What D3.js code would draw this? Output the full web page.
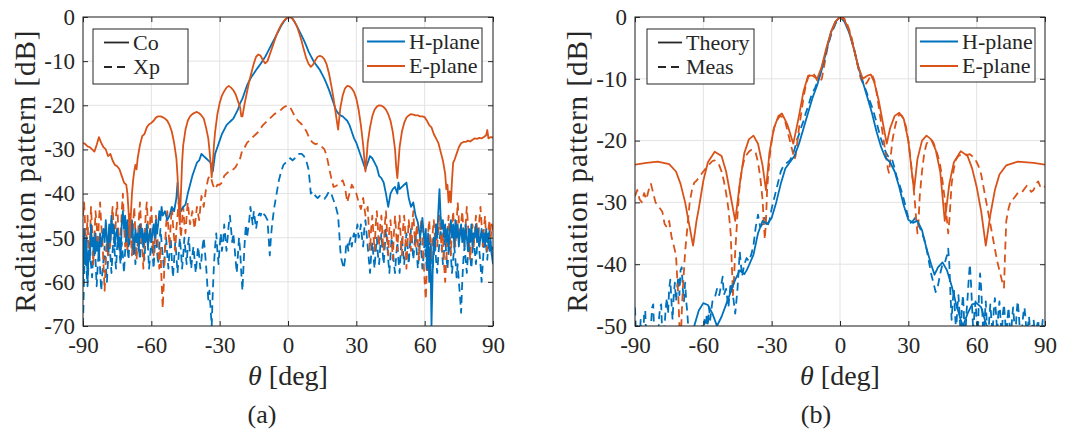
<!DOCTYPE html>
<html lang="en">
<head>
<meta charset="UTF-8">
<title>Radiation pattern</title>
<style>
  body { margin: 0; background: #fff; }
</style>
</head>
<body>
<script src="https://d3js.org/d3.v7.min.js"></script>
<div id="chart"></div>
<script>
// tick values
const thetaTicks = [-90, -60, -30, 0, 30, 60, 90]
const dbTicksA = [0, -10, -20, -30, -40, -50, -60, -70]
const dbTicksB = [0, -10, -20, -30, -40, -50]

// (a) measured co-pol / cross-pol, [theta deg, dB]
const coH = [[-90,-60],[-89.5,-48],[-89,-56],[-88.5,-50],[-88,-60],[-87.5,-53],[-87,-55],[-86.5,-47],[-86,-52],[-85.5,-50],[-85,-54],[-84.5,-49],[-84,-53],[-83.5,-51],[-83,-55],[-82.5,-49],[-82,-52],[-81,-48],[-80.5,-51],[-80,-46],[-79.5,-50],[-79,-53],[-78.5,-47],[-78,-51],[-77.5,-45],[-77,-49],[-76.5,-47],[-76,-52],[-75.5,-49],[-75,-48],[-74.5,-52],[-74,-50],[-73.5,-55],[-73,-47],[-72.5,-44],[-72,-48],[-71.5,-45],[-71,-50],[-70.5,-46],[-70,-52],[-69.5,-47],[-69,-50],[-68.5,-46],[-68,-50],[-67.5,-53],[-67,-48],[-66.5,-51],[-66,-49],[-65.5,-53],[-65,-47],[-64.5,-50],[-64,-48],[-63.5,-52],[-63,-49],[-62.5,-51],[-62,-47],[-61.5,-52],[-61,-50],[-60.5,-48],[-60,-51],[-59.5,-49],[-59,-47],[-58.5,-50],[-58,-46],[-57.5,-49],[-57,-47],[-56.5,-44],[-56,-46],[-55.5,-43],[-55,-45],[-54,-44],[-53,-46],[-52,-45],[-51,-43],[-50,-44],[-49,-41],[-48.5,-37.5],[-48,-41],[-47,-44],[-46,-43],[-45,-42.5],[-44,-40],[-43,-38],[-42,-36],[-41,-34.5],[-40,-33],[-39,-32.5],[-38,-31],[-37,-31.5],[-36,-32],[-35,-32.5],[-34,-33],[-33.5,-34],[-33,-35],[-32,-31],[-31,-29.5],[-30,-28],[-29,-26.5],[-28,-25.5],[-27,-24.5],[-26,-24],[-25,-23.5],[-24,-23],[-23,-22],[-22,-21],[-21,-19.5],[-20,-18.5],[-19,-17],[-18,-15.5],[-17,-14.5],[-16,-13.5],[-15,-12.8],[-14,-12],[-13,-11.3],[-12,-10.6],[-11,-9.8],[-10,-9],[-9,-8],[-8,-7],[-7,-6],[-6,-5],[-5,-4],[-4,-3],[-3,-2],[-2,-1.2],[-1,-0.5],[0,-0.1],[1,0],[2,-0.4],[3,-1.2],[4,-2.2],[5,-3.2],[6,-4.2],[7,-5.3],[8,-6.5],[9,-7.8],[10,-8.8],[11,-9.8],[12,-10.6],[13,-11.3],[14,-12],[15,-13],[16,-14],[17,-15.2],[18,-16.5],[19,-18],[20,-19.5],[21,-21],[22,-21.8],[23,-22.3],[24,-22.5],[25,-23],[26,-23.5],[27,-24.5],[28,-26],[29,-27.5],[30,-28.5],[31,-30],[32,-31.5],[33,-33],[34,-34.5],[35,-33],[36,-31.5],[37,-32],[38,-33],[39,-34],[40,-36],[41,-36.5],[42,-37.5],[43,-40],[44,-43],[45,-40],[46,-39],[47,-38.5],[48,-40],[48.5,-37.5],[49,-39],[50,-38.5],[51,-38],[52,-37.5],[53,-41],[54,-43],[55,-42],[56,-45],[57,-46.5],[58,-50],[59,-45.5],[60,-52],[60.5,-48],[61,-57],[61.5,-49],[62,-60],[62.5,-52],[63,-70],[63.5,-58],[64,-50],[64.5,-53],[65,-47],[65.5,-50],[66,-44],[66.5,-39],[67,-45],[67.5,-48],[68,-46],[68.5,-50],[69,-47],[69.5,-51],[70,-48],[70.5,-53],[71,-49],[71.5,-46],[72,-50],[72.5,-47],[73,-52],[73.5,-46],[74,-50],[74.5,-47],[75,-52],[75.5,-49],[76,-47],[76.5,-51],[77,-48],[77.5,-52],[78,-47],[78.5,-50],[79,-53],[79.5,-48],[80,-51],[80.5,-47],[81,-52],[81.5,-49],[82,-50],[82.5,-47],[83,-51],[83.5,-48],[84,-52],[84.5,-50],[85,-48],[85.5,-51],[86,-49],[86.5,-52],[87,-48],[87.5,-51],[88,-49],[88.5,-53],[89,-51],[89.5,-54],[90,-56]]

const coE = [[-90,-28.5],[-89,-28.8],[-88,-29.3],[-87,-29.5],[-86,-30],[-85,-30.5],[-84,-29],[-83,-27.2],[-82,-28.5],[-81,-29.5],[-80,-30],[-79,-31.5],[-78,-31],[-77,-32.5],[-76,-33.5],[-75,-33.8],[-74,-34.5],[-73,-36],[-72,-37.5],[-71,-38],[-70.5,-40],[-70,-44],[-69.5,-50],[-69,-45],[-68.5,-40],[-68,-37],[-67.5,-35],[-67,-33.5],[-66.5,-34.5],[-66,-32],[-65,-29],[-64,-27],[-63,-26.5],[-62,-25],[-61,-24.3],[-60,-24],[-59,-23.5],[-58,-22.8],[-57,-22.5],[-56,-22.5],[-55,-22.7],[-54,-23],[-53,-23.5],[-52,-24.5],[-51,-26],[-50,-28.5],[-49,-32],[-48.5,-36],[-48,-42],[-47.5,-47],[-47,-40],[-46.5,-33],[-46,-29],[-45,-25.5],[-44,-23.5],[-43,-22.5],[-42,-22],[-41,-21.7],[-40,-21.5],[-39,-21.8],[-38,-22.3],[-37,-23],[-36,-25],[-35,-27.5],[-34.5,-30],[-34,-33],[-33.5,-36.3],[-33,-33],[-32.5,-29],[-32,-26],[-31,-22],[-30,-19.5],[-29,-17.8],[-28,-16.8],[-27,-16],[-26,-15.6],[-25,-16],[-24,-16.6],[-23,-17.5],[-22,-19],[-21,-20.5],[-20.5,-22.5],[-20,-22.5],[-19.5,-21],[-19,-19.5],[-18,-17],[-17,-14.5],[-16,-12.5],[-15,-10.5],[-14,-9],[-13,-8.5],[-12,-8.8],[-11,-9.8],[-10,-10.5],[-9,-10],[-8,-8.5],[-7,-7],[-6,-5.5],[-5,-4],[-4,-2.8],[-3,-1.8],[-2,-1],[-1,-0.4],[0,-0.1],[1,0],[2,-0.4],[3,-1.2],[4,-2.2],[5,-3.8],[6,-5.5],[7,-7.5],[8,-9.3],[9,-10.6],[10,-11.3],[11,-10.8],[12,-9.8],[13,-9],[14,-8.8],[15,-9],[16,-9.6],[17,-10.8],[18,-12.8],[19,-15.5],[20,-18.5],[21,-22],[22,-25.5],[22.5,-23],[23,-20.5],[24,-17.8],[25,-16.2],[26,-15.6],[27,-15.7],[28,-16.2],[29,-17],[30,-18.5],[31,-21],[32,-24.5],[33,-29],[33.5,-32],[34,-35],[34.5,-32],[35,-28.5],[36,-25],[37,-22.5],[38,-21],[39,-20.3],[40,-20],[41,-20.1],[42,-20.4],[43,-21],[44,-22],[45,-23.5],[46,-26],[47,-30],[47.5,-34],[48,-36.5],[48.5,-33],[49,-29.5],[50,-26],[51,-24],[52,-22.8],[53,-22.3],[54,-22],[55,-22.1],[56,-22.3],[57,-22.3],[58,-22.5],[59,-22.5],[60,-22.7],[61,-23.5],[62,-24.5],[63,-25],[64,-26.5],[65,-27.5],[66,-28.5],[67,-30.5],[68,-32.5],[69,-35.5],[69.5,-39],[70,-38],[70.5,-42],[71,-39.5],[71.5,-42],[72,-37],[72.5,-33],[73,-32.5],[74,-31],[75,-29.5],[76,-28.6],[77,-28.3],[78,-28.3],[79,-28],[80,-28.2],[81,-27.8],[82,-27.5],[83,-27.6],[84,-27.4],[85,-27.5],[86,-27.2],[87,-26.8],[87.5,-25.6],[88,-27.5],[89,-27.2],[90,-27.3]]

const xpH = [[-90,-70],[-89.5,-58],[-89,-52],[-88.5,-57],[-88,-61],[-87.5,-55],[-87,-51],[-86.5,-56],[-86,-59],[-85.5,-53],[-85,-50],[-84.5,-55],[-84,-61],[-83.5,-56],[-83,-53],[-82.5,-57],[-82,-62],[-81.5,-58],[-81,-55],[-80.5,-52],[-80,-56],[-79.5,-60],[-79,-55],[-78.5,-51],[-78,-54],[-77.5,-58],[-77,-53],[-76.5,-50],[-76,-54],[-75.5,-57],[-75,-52],[-74.5,-49],[-74,-53],[-73.5,-56],[-73,-51],[-72.5,-54],[-72,-58],[-71.5,-53],[-71,-49],[-70.5,-52],[-70,-55],[-69.5,-50],[-69,-47],[-68.5,-51],[-68,-54],[-67.5,-50],[-67,-56],[-66.5,-53],[-66,-49],[-65.5,-52],[-65,-55],[-64.5,-51],[-64,-48],[-63.5,-52],[-63,-55],[-62.5,-50],[-62,-48],[-61.5,-52],[-61,-57],[-60.5,-54],[-60,-50],[-59.5,-53],[-59,-57],[-58.5,-52],[-58,-49],[-57.5,-53],[-57,-56],[-56.5,-52],[-56,-48],[-55.5,-51],[-55,-54],[-54.5,-57],[-54,-53],[-53.5,-50],[-53,-54],[-52.5,-57],[-52,-53],[-51.5,-50],[-51,-55],[-50.5,-59],[-50,-55],[-49.5,-51],[-49,-54],[-48.5,-58],[-48,-54],[-47.5,-50],[-47,-53],[-46.5,-57],[-46,-54],[-45.5,-50],[-45,-53],[-44.5,-56],[-44,-52],[-43.5,-50],[-43,-54],[-42.5,-57],[-42,-54],[-41.5,-52],[-41,-55],[-40.5,-58],[-40,-55],[-39.5,-52],[-39,-54],[-38.5,-57],[-38,-55],[-37.5,-52],[-37,-50],[-36.5,-53],[-36,-56],[-35.5,-60],[-35,-64],[-34.5,-62],[-34,-66],[-33.5,-70],[-33,-62],[-32.5,-56],[-32,-52],[-31.5,-49],[-31,-53],[-30.5,-56],[-30,-52],[-29.5,-49],[-29,-53],[-28.5,-51],[-28,-47],[-27.5,-50],[-27,-53],[-26.5,-50],[-26,-47],[-25.5,-45],[-25,-48],[-24.5,-51],[-24,-49],[-23.5,-52],[-23,-55],[-22.5,-58],[-22,-54],[-21.5,-50],[-21,-53],[-20.5,-58],[-20,-62],[-19.5,-56],[-19,-51],[-18.5,-47],[-18,-50],[-17.5,-48],[-17,-46],[-16.5,-43],[-16,-45],[-15.5,-47],[-15,-44],[-14.5,-46],[-14,-48],[-13.5,-46],[-13,-45],[-12.5,-44.5],[-12,-45],[-11.5,-44],[-11,-44.5],[-10,-45],[-9,-46],[-8.5,-50],[-8,-54],[-7.5,-50],[-7,-47],[-6,-43],[-5,-40],[-4,-37],[-3,-35],[-2,-33.5],[-1,-33],[0,-32.5],[1,-32],[2,-32.5],[3,-32],[4,-31.2],[5,-31],[6,-31],[7,-31.5],[8,-32.5],[9,-34.5],[9.5,-37],[10,-40],[11,-39.5],[12,-40.5],[13,-41],[14,-40.5],[15,-41],[16,-41.2],[17,-40.5],[18,-39.5],[19,-40],[20,-41.5],[21,-43],[22,-45],[22.5,-49],[23,-53],[23.5,-55],[24,-56],[24.5,-57],[25,-55],[25.5,-52],[26,-51],[26.5,-53],[27,-51],[27.5,-50],[28,-52],[28.5,-50],[29,-49],[29.5,-51],[30,-48.5],[30.5,-47],[31,-50],[31.5,-49],[32,-47],[32.5,-50],[33,-52],[33.5,-48],[34,-46],[34.5,-49],[35,-52],[35.5,-55],[36,-58],[36.5,-54],[37,-51],[37.5,-54],[38,-57],[38.5,-53],[39,-50],[39.5,-54],[40,-56],[40.5,-52],[41,-49],[41.5,-53],[42,-56],[42.5,-52],[43,-48],[43.5,-51],[44,-55],[44.5,-58],[45,-54],[45.5,-50],[46,-52],[46.5,-56],[47,-58],[47.5,-54],[48,-51],[48.5,-55],[49,-58],[49.5,-53],[50,-50],[50.5,-53],[51,-56],[51.5,-52],[52,-49],[52.5,-52],[53,-56],[53.5,-52],[54,-48],[54.5,-51],[55,-55],[55.5,-52],[56,-49],[56.5,-53],[57,-57],[57.5,-54],[58,-50],[58.5,-53],[59,-57],[59.5,-54],[60,-51],[60.5,-54],[61,-58],[61.5,-55],[62,-52],[62.5,-50],[63,-54],[63.5,-57],[64,-54],[64.5,-51],[65,-55],[65.5,-58],[66,-54],[66.5,-51],[67,-48],[67.5,-52],[68,-56],[68.5,-53],[69,-50],[69.5,-54],[70,-57],[70.5,-53],[71,-50],[71.5,-54],[72,-58],[72.5,-55],[73,-52],[73.5,-55],[74,-59],[74.5,-56],[75,-60],[75.5,-63],[76,-67],[76.5,-60],[77,-55],[77.5,-52],[78,-55],[78.5,-58],[79,-54],[79.5,-51],[80,-54],[80.5,-57],[81,-53],[81.5,-50],[82,-53],[82.5,-56],[83,-52],[83.5,-49],[84,-53],[84.5,-56],[85,-60],[85.5,-56],[86,-52],[86.5,-49],[87,-52],[87.5,-55],[88,-51],[88.5,-48],[89,-51],[89.5,-54],[90,-52]]

const xpE = [[-90,-45],[-89.5,-42],[-89,-48],[-88.5,-51],[-88,-45],[-87.5,-55],[-87,-52],[-86.5,-43],[-86,-48],[-85.5,-56],[-85,-50],[-84.5,-44],[-84,-47],[-83.5,-52],[-83,-46],[-82.5,-42],[-82,-47],[-81.5,-50],[-81,-56],[-80.5,-62],[-80,-55],[-79.5,-50],[-79,-54],[-78.5,-47],[-78,-52],[-77.5,-46],[-77,-43],[-76.5,-48],[-76,-52],[-75.5,-45],[-75,-42],[-74.5,-48],[-74,-53],[-73.5,-50],[-73,-44],[-72.5,-40],[-72,-47],[-71.5,-52],[-71,-49],[-70.5,-53],[-70,-48],[-69.5,-44],[-69,-50],[-68.5,-54],[-68,-47],[-67.5,-43],[-67,-49],[-66.5,-55],[-66,-51],[-65.5,-46],[-65,-42],[-64.5,-47],[-64,-52],[-63.5,-57],[-63,-51],[-62.5,-45],[-62,-42],[-61.5,-47],[-61,-51],[-60.5,-46],[-60,-43],[-59.5,-49],[-59,-54],[-58.5,-50],[-58,-45],[-57.5,-48],[-57,-53],[-56.5,-57],[-56,-52],[-55.5,-60],[-55,-66],[-54.5,-60],[-54,-52],[-53.5,-47],[-53,-44],[-52.5,-48],[-52,-52],[-51.5,-47],[-51,-43],[-50.5,-47],[-50,-50],[-49.5,-53],[-49,-48],[-48.5,-45],[-48,-42],[-47.5,-46],[-47,-50],[-46.5,-46],[-46,-43],[-45.5,-47],[-45,-49],[-44.5,-45],[-44,-42],[-43,-47],[-42,-44],[-41,-48],[-40,-43],[-39,-46],[-38,-40.5],[-37,-43],[-36,-39],[-35,-36.5],[-34,-36],[-33,-38],[-32,-39],[-31,-38],[-30,-38],[-29,-37.5],[-28,-36],[-27,-35.5],[-26,-35],[-25,-35],[-24,-34.5],[-23,-34],[-22,-33],[-21,-32],[-20,-30],[-19,-29.5],[-18,-28.5],[-17,-28],[-16,-27.5],[-15,-27],[-14,-26.5],[-13,-26],[-12,-25.2],[-11,-24.5],[-10,-24],[-9,-23.5],[-8,-23],[-7,-22.5],[-6,-22],[-5,-21.7],[-4,-21.3],[-3,-21],[-2,-20.5],[-1,-20.2],[0,-20],[1,-20.5],[2,-21.5],[3,-22.5],[4,-23.3],[5,-23.8],[6,-24.3],[7,-25],[8,-25.8],[9,-27],[10,-28],[11,-28.5],[12,-28.8],[13,-28.7],[14,-29],[15,-29.5],[16,-30],[17,-31.5],[18,-34],[19,-36.5],[20,-38.5],[21,-38.3],[22,-38],[23,-37.5],[24,-37],[25,-38.5],[26,-42],[27,-40],[28,-38],[29,-39],[30,-40],[31,-42],[32,-43.5],[33,-41],[34,-45],[35,-43],[36,-53],[36.5,-48],[37,-45],[37.5,-49],[38,-53],[38.5,-47],[39,-44],[39.5,-48],[40,-52],[40.5,-47],[41,-45],[41.5,-50],[42,-53],[42.5,-47],[43,-44],[43.5,-49],[44,-54],[44.5,-48],[45,-46],[45.5,-50],[46,-55],[46.5,-49],[47,-45],[47.5,-49],[48,-53],[48.5,-48],[49,-45],[49.5,-50],[50,-54],[50.5,-48],[51,-45],[51.5,-49],[52,-57],[52.5,-51],[53,-46],[53.5,-49],[54,-53],[54.5,-47],[55,-44],[55.5,-49],[56,-52],[56.5,-47],[57,-51],[57.5,-55],[58,-49],[58.5,-46],[59,-50],[59.5,-55],[60,-60],[60.5,-64],[61,-56],[61.5,-49],[62,-46],[62.5,-51],[63,-55],[63.5,-49],[64,-46],[64.5,-50],[65,-47],[65.5,-52],[66,-48],[66.5,-45],[67,-49],[67.5,-53],[68,-49],[68.5,-56],[69,-60],[69.5,-55],[70,-49],[70.5,-45],[71,-50],[71.5,-54],[72,-48],[72.5,-44],[73,-49],[73.5,-52],[74,-47],[74.5,-42],[75,-46],[75.5,-50],[76,-47],[76.5,-44],[77,-48],[77.5,-52],[78,-47],[78.5,-43],[79,-47],[79.5,-51],[80,-55],[80.5,-50],[81,-47],[81.5,-52],[82,-49],[82.5,-45],[83,-48],[83.5,-51],[84,-46],[84.5,-43],[85,-47],[85.5,-52],[86,-48],[86.5,-45],[87,-50],[87.5,-53],[88,-48],[88.5,-46],[89,-50],[89.5,-47],[90,-49]]

// (b) theory vs measurement, [theta deg, dB]
const thH = [[-90,-62],[-80,-60],[-70,-57],[-66,-52],[-64,-50],[-62,-47.5],[-60,-46.3],[-58,-46.6],[-56,-48],[-54,-50],[-52,-48.5],[-50,-46.5],[-48,-44.5],[-46,-42.5],[-44,-41],[-42,-41.6],[-41,-41],[-40,-40.2],[-38,-38.5],[-36,-35],[-34,-33],[-32,-33.5],[-30,-32.5],[-28,-30],[-26,-27],[-24,-24.5],[-22,-23.5],[-20,-22.5],[-18,-20.5],[-16,-18],[-14,-15.5],[-12,-13],[-10,-11],[-8,-8.5],[-6,-5.5],[-4,-2.5],[-2,-0.8],[0,0],[2,-0.8],[4,-2.5],[6,-5],[8,-8],[10,-10.5],[12,-13],[14,-15.5],[16,-18.5],[18,-21],[20,-22.8],[22,-23.5],[24,-25],[26,-27.5],[28,-30.5],[30,-32.8],[32,-33.3],[34,-33],[36,-34.5],[38,-37.5],[40,-40],[41.5,-41.7],[43,-40.5],[45,-39.7],[47,-41],[49,-43.5],[51,-46.5],[53,-49],[54,-50],[56,-48],[58,-46.5],[60,-46.3],[62,-47],[64,-49.5],[66,-52],[70,-56],[80,-60],[90,-62]]

const thE = [[-90,-23.9],[-85,-23.6],[-80,-23.4],[-75,-23.8],[-72,-25],[-70,-27],[-68,-30],[-66,-34],[-64.5,-37],[-63,-33],[-62,-31],[-60,-26.5],[-58,-23.5],[-55,-21.8],[-52,-22.5],[-50,-25],[-48,-29],[-46,-33],[-44,-27],[-42,-22],[-40,-19.8],[-38,-19.2],[-36,-20.5],[-34,-24],[-32.5,-28],[-31,-22],[-29,-18],[-27,-16],[-25.5,-15.6],[-23,-17.5],[-20.5,-20.5],[-18,-16],[-16,-12],[-14,-9.5],[-12,-9.5],[-10,-10],[-8,-8],[-6,-5],[-4,-2.5],[-2,-0.7],[0,0],[2,-0.5],[4,-2.2],[6,-5],[8,-8],[10,-10],[12,-9.5],[13.5,-9.3],[15,-10.5],[17,-13.5],[19,-17.5],[20.5,-20.5],[22,-18],[24,-16],[26,-15.5],[28,-16.5],[30,-20],[31.5,-25],[32.5,-28],[34,-23],[36,-20],[38,-19.2],[40,-19.8],[42,-21.5],[44,-25],[46,-33],[48,-27],[50,-23.5],[53,-21.7],[56,-22.5],[58,-24.5],[60,-27.5],[62,-31.5],[64,-37],[66,-32],[68,-28],[70,-25.5],[73,-24],[78,-23.4],[85,-23.6],[90,-23.9]]

const msH = [[-90,-47],[-89.5,-52],[-89,-50],[-88.5,-55],[-88,-52],[-87.5,-49],[-87,-53],[-86.5,-56],[-86,-48],[-85.5,-47.5],[-85,-53],[-84.5,-57],[-84,-51],[-83.5,-55],[-83,-50],[-82.5,-47],[-82,-46.5],[-81.5,-52],[-81,-56],[-80.5,-51],[-80,-55],[-79.5,-49],[-79,-47],[-78.5,-46.5],[-78,-52],[-77.5,-55],[-77,-50],[-76.5,-47],[-76,-45.5],[-75.5,-48],[-75,-44],[-74.5,-42.5],[-74,-46],[-73.5,-49],[-73,-45],[-72.5,-43],[-72,-46],[-71.5,-44],[-71,-42],[-70.5,-45],[-70,-41],[-69.5,-40.5],[-69,-44],[-68.5,-46],[-68,-43],[-67.5,-46],[-67,-48],[-66.5,-51],[-66,-54],[-65.5,-51],[-65,-55],[-64.5,-52],[-64,-56],[-63.5,-53],[-63,-57],[-62,-54],[-61,-52],[-60.5,-50],[-60,-53],[-59.5,-49],[-59,-51],[-58.5,-48],[-58,-50],[-57.5,-47],[-57,-49],[-56,-46],[-55,-45.5],[-54,-44],[-53,-45],[-52,-43],[-51.5,-42],[-51,-45],[-50,-44],[-49,-47],[-48,-43],[-47,-45],[-46,-48],[-45,-44],[-44,-38],[-43.5,-40],[-43,-42],[-42,-40],[-41,-39],[-40,-39.5],[-39,-38.5],[-38,-37],[-37,-34],[-36,-32],[-35,-34],[-34,-33.5],[-33,-32.5],[-32,-34],[-31,-33],[-30,-31],[-29,-29.5],[-28,-28],[-27,-26.5],[-26,-25],[-25,-24.2],[-24,-23.8],[-23,-23.5],[-22,-23.2],[-21,-22.5],[-20,-21.5],[-19,-20],[-18,-19],[-17,-17.8],[-16,-16.8],[-15,-15.5],[-14,-14.5],[-13,-13.2],[-12,-12.2],[-11,-11.5],[-10,-10.6],[-9,-9.5],[-8,-8.2],[-7,-6.8],[-6,-5.5],[-5,-4.2],[-4,-3],[-3,-2],[-2,-1.1],[-1,-0.5],[0,-0.1],[1,0],[2,-0.5],[3,-1.3],[4,-2.4],[5,-3.6],[6,-5],[7,-6.5],[8,-8],[9,-9.3],[10,-10.5],[11,-11.5],[12,-12.5],[13,-13.5],[14,-14.5],[15,-15.7],[16,-17],[17,-18.4],[18,-19.7],[19,-20.8],[20,-21.8],[21,-22.5],[22,-22.6],[23,-23.2],[24,-24.5],[25,-26],[26,-27],[27,-28.2],[28,-29.5],[29,-31],[30,-32.5],[31,-33.3],[32,-33],[33,-32.5],[34,-33.2],[35,-34],[36,-35],[37,-36],[38,-37.5],[39,-39.5],[40,-41.5],[41,-43],[42,-44.5],[43,-43.5],[44,-41.5],[45,-40],[46,-39.8],[47,-38.5],[47.5,-37.5],[48,-40],[48.5,-45],[49,-49],[49.5,-46],[50,-44],[50.5,-48],[51,-51],[51.5,-47],[52,-45],[52.5,-48],[53,-52],[53.5,-47],[54,-45],[54.5,-49],[55,-52],[55.5,-48],[56,-45.5],[56.5,-42.5],[57,-40],[57.5,-43],[58,-47],[58.5,-51],[59,-48],[59.5,-46],[60,-49],[60.5,-52],[61,-45],[61.5,-41.5],[62,-44],[62.5,-48],[63,-52],[63.5,-49],[64,-46],[64.5,-50],[65,-53],[65.5,-49],[66,-46.5],[66.5,-49],[67,-51],[67.5,-47.5],[68,-45.5],[68.5,-48],[69,-51],[69.5,-48],[70,-46],[70.5,-49],[71,-52],[71.5,-48],[72,-46.5],[72.5,-49],[73,-52],[73.5,-49],[74,-47],[74.5,-50],[75,-53],[75.5,-49],[76,-47],[76.5,-49.5],[77,-52],[77.5,-48],[78,-46],[78.5,-48],[79,-51],[79.5,-54],[80,-50],[80.5,-48],[81,-47],[81.5,-49],[82,-52],[82.5,-50],[83,-48.5],[83.5,-51],[84,-54],[84.5,-50],[85,-49],[85.5,-51],[86,-53],[86.5,-50],[87,-49],[87.5,-51.5],[88,-54],[88.5,-51],[89,-49],[89.5,-51],[90,-52]]

const msE = [[-90,-29],[-89,-28],[-88,-29.5],[-87,-30],[-86,-28.5],[-85,-29.5],[-84,-28],[-83,-27],[-82,-28.5],[-81,-30],[-80,-30.5],[-79,-31],[-78,-31.5],[-77,-33.5],[-76,-34],[-75,-33],[-74,-35.5],[-73,-37],[-72,-38.5],[-71.5,-42],[-71,-45],[-70.5,-50],[-70,-54],[-69.5,-48],[-69,-44],[-68,-38],[-67,-34],[-66,-30],[-65,-28],[-64,-26.8],[-63,-26.5],[-62,-26],[-61,-25.5],[-60,-25],[-59,-24.5],[-58,-24],[-57,-23.7],[-56,-23.3],[-55,-23.2],[-54,-23.5],[-53,-24],[-52,-25],[-51,-26.5],[-50,-28.5],[-49,-31],[-48,-35],[-47.5,-40],[-47,-45],[-46.5,-42],[-46,-38],[-45,-32],[-44,-27],[-43,-24.5],[-42,-23],[-41,-22.3],[-40,-21.8],[-39,-21.5],[-38,-21.5],[-37,-22],[-36,-23.5],[-35,-26],[-34,-29.5],[-33.5,-33],[-33,-36],[-32.5,-33],[-32,-28],[-31,-23],[-30,-20],[-29,-18],[-28,-17],[-27,-16.3],[-26,-16],[-25,-16.3],[-24,-17],[-23,-18.5],[-22,-20],[-21,-21.5],[-20,-23],[-19.5,-22.5],[-19,-21],[-18,-18],[-17,-15.5],[-16,-13],[-15,-11],[-14,-9.8],[-13,-9.3],[-12,-9],[-11,-9.5],[-10,-10.3],[-9,-10.6],[-8,-10],[-7,-8],[-6,-6],[-5,-4],[-4,-2.8],[-3,-1.8],[-2,-1],[-1,-0.4],[0,-0.1],[1,0],[2,-0.3],[3,-1],[4,-2],[5,-3.2],[6,-4.8],[7,-6.5],[8,-8.3],[9,-9.8],[10,-10.8],[11,-11],[12,-10.5],[13,-9.8],[14,-9.3],[15,-10.2],[16,-12],[17,-14.5],[18,-17],[19,-19.5],[20,-22],[21,-24.5],[21.5,-25.2],[22,-23.5],[23,-20],[24,-18],[25,-16.5],[26,-15.8],[27,-15.9],[28,-16.5],[29,-17.8],[30,-20],[31,-23],[32,-26.5],[33,-30.5],[33.5,-33],[34,-35],[34.5,-33],[35,-29],[36,-25],[37,-22],[38,-20.5],[39,-20],[40,-19.8],[41,-20.3],[42,-21.3],[43,-22.5],[44,-24],[45,-26.5],[46,-29.5],[47,-33],[47.5,-35],[48,-33],[48.5,-30],[49,-27],[50,-24.5],[51,-23],[52,-22.5],[53,-22.3],[54,-22.2],[55,-22.2],[56,-22.3],[57,-22.2],[58,-22.5],[59,-22.8],[60,-23.5],[61,-24.3],[62,-25.5],[63,-27.5],[64,-29.5],[65,-31.5],[66,-33.5],[67,-35.5],[68,-37.5],[69,-39.5],[70,-41],[71,-42.5],[72,-43.8],[72.5,-38],[73,-33],[74,-31],[75,-29.7],[76,-29.5],[77,-29],[78,-28.5],[79,-28.2],[80,-28.3],[81,-27.8],[82,-27.3],[83,-27.8],[84,-28.3],[85,-28],[86,-27],[87,-26.6],[88,-27.5],[89,-27.2],[90,-27.5]]

const BLUE = "#0072BD"
const ORANGE = "#D95319"
const INK = "#262626"
const FONT = "'Liberation Serif'"
const DASH = "8,5"
const TOP = 17, BOTTOM = 326

const svg = d3.select("#chart").append("svg")
    .attr("width", 1065)
    .attr("height", 430)
    .style("font-family", FONT)

const drawPanel = (p) => {
    const x = d3.scaleLinear().domain([-90, 90]).range([p.left, p.right])
    const y = d3.scaleLinear().domain([p.yMin, 0]).range([BOTTOM, TOP])
    const g = svg.append("g")

    // grid
    g.append("g").selectAll("line").data(thetaTicks).join("line")
        .attr("x1", d => x(d)).attr("x2", d => x(d))
        .attr("y1", TOP).attr("y2", BOTTOM)
        .attr("stroke", "#e3e3e3").attr("stroke-width", 1)
    g.append("g").selectAll("line").data(p.yTicks).join("line")
        .attr("x1", p.left).attr("x2", p.right)
        .attr("y1", d => y(d)).attr("y2", d => y(d))
        .attr("stroke", "#e3e3e3").attr("stroke-width", 1)

    // curves, clipped to the axes box
    const clipId = "clip-" + p.id
    svg.append("clipPath").attr("id", clipId).append("rect")
        .attr("x", p.left).attr("y", TOP)
        .attr("width", p.right - p.left).attr("height", BOTTOM - TOP)
    const line = d3.line().x(d => x(d[0])).y(d => y(d[1]))
    const curves = g.append("g").attr("clip-path", `url(#${clipId})`)
    p.series.forEach(s => {
        curves.append("path")
            .attr("d", line(s.data))
            .attr("fill", "none")
            .attr("stroke", s.color)
            .attr("stroke-width", 1.8)
            .attr("stroke-linejoin", "round")
            .attr("stroke-dasharray", s.dash ? DASH : null)
    })

    // axes, MATLAB style ticks pointing inward
    const styleAxis = (sel) => {
        sel.attr("font-family", null).attr("font-size", null)
        sel.select(".domain").remove()
        sel.selectAll("line").attr("stroke", INK)
        sel.selectAll("text").style("font-family", FONT).style("font-size", "23px").style("fill", INK)
    }
    g.append("g").attr("transform", `translate(0,${BOTTOM})`)
        .call(d3.axisBottom(x).tickValues(thetaTicks).tickSize(-5).tickPadding(11).tickFormat(d => String(d)))
        .call(styleAxis)
    g.append("g").attr("transform", `translate(0,${TOP})`)
        .call(d3.axisTop(x).tickValues(thetaTicks).tickSize(-5).tickFormat(""))
        .call(styleAxis)
    g.append("g").attr("transform", `translate(${p.left},0)`)
        .call(d3.axisLeft(y).tickValues(p.yTicks).tickSize(-5).tickPadding(8).tickFormat(d => String(d)))
        .call(styleAxis)
    g.append("g").attr("transform", `translate(${p.right},0)`)
        .call(d3.axisRight(y).tickValues(p.yTicks).tickSize(-5).tickFormat(""))
        .call(styleAxis)

    g.append("rect")
        .attr("x", p.left).attr("y", TOP)
        .attr("width", p.right - p.left).attr("height", BOTTOM - TOP)
        .attr("fill", "none").attr("stroke", INK).attr("stroke-width", 1)

    // axis labels
    const midY = (TOP + BOTTOM) / 2
    g.append("text")
        .attr("transform", `translate(${p.left - 58},${midY}) rotate(-90)`)
        .attr("text-anchor", "middle")
        .attr("dominant-baseline", "central")
        .style("font-family", FONT).style("font-size", "29px").style("fill", INK)
        .attr("textLength", 282)
        .attr("lengthAdjust", "spacing")
        .text("Radiation pattern [dB]")
    const xl = g.append("text")
        .attr("x", (p.left + p.right) / 2)
        .attr("y", 385)
        .attr("text-anchor", "middle")
        .style("font-family", FONT).style("font-size", "28px").style("fill", INK)
    xl.append("tspan").style("font-style", "italic").text("θ")
    xl.append("tspan").text(" [deg]")
    g.append("text")
        .attr("x", p.captionX).attr("y", 423)
        .attr("text-anchor", "middle")
        .style("font-family", FONT).style("font-size", "26px").style("fill", INK)
        .text(p.caption)

    // legends
    const legend = (box, rows) => {
        const lg = g.append("g")
        lg.append("rect")
            .attr("x", box.x).attr("y", box.y).attr("width", box.w).attr("height", box.h)
            .attr("fill", "#fff").attr("stroke", INK).attr("stroke-width", 1)
        rows.forEach((r, i) => {
            const cy = box.y + 13.5 + i * 24.5
            lg.append("line")
                .attr("x1", box.x + box.l0).attr("x2", box.x + box.l1)
                .attr("y1", cy).attr("y2", cy)
                .attr("stroke", r.color).attr("stroke-width", 1.8)
                .attr("stroke-dasharray", r.dash ? DASH : null)
            lg.append("text")
                .attr("x", box.x + box.l1 + 4).attr("y", cy + 7)
                .style("font-family", FONT).style("font-size", "22px").style("fill", INK)
                .text(r.label)
        })
    }
    legend(p.styleBox, p.styleRows)
    legend(p.colorBox, [
        { label: "H-plane", color: BLUE },
        { label: "E-plane", color: ORANGE }
    ])
}

drawPanel({
    id: "a", left: 83, right: 493, yMin: -70, yTicks: dbTicksA,
    caption: "(a)", captionX: 262,
    series: [
        { data: xpH, color: BLUE, dash: true },
        { data: xpE, color: ORANGE, dash: true },
        { data: coH, color: BLUE },
        { data: coE, color: ORANGE }
    ],
    styleBox: { x: 93, y: 29, w: 95, h: 55, l0: 11, l1: 36 },
    styleRows: [{ label: "Co", color: INK }, { label: "Xp", color: INK, dash: true }],
    colorBox: { x: 363, y: 28, w: 119, h: 54, l0: 4, l1: 42 }
})

drawPanel({
    id: "b", left: 635, right: 1045, yMin: -50, yTicks: dbTicksB,
    caption: "(b)", captionX: 816,
    series: [
        { data: msH, color: BLUE, dash: true },
        { data: msE, color: ORANGE, dash: true },
        { data: thH, color: BLUE },
        { data: thE, color: ORANGE }
    ],
    styleBox: { x: 647, y: 29, w: 107, h: 55, l0: 11, l1: 35 },
    styleRows: [{ label: "Theory", color: INK }, { label: "Meas", color: INK, dash: true }],
    colorBox: { x: 916, y: 28, w: 119, h: 54, l0: 4, l1: 42 }
})
</script>
</body>
</html>
